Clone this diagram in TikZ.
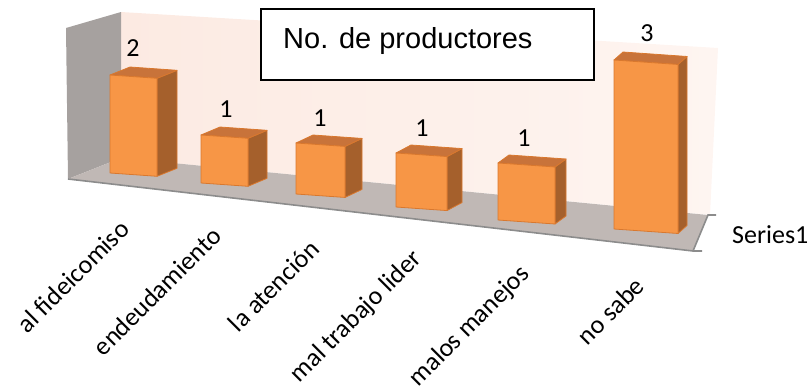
\documentclass[tikz,border=0pt]{standalone}
\usepackage{fontspec}
\setmainfont{Carlito}
\newfontfamily\titlefont{Liberation Sans}
\usetikzlibrary{positioning}
\definecolor{barfront}{HTML}{F79646}
\definecolor{bartop}{HTML}{C8733A}
\definecolor{barside}{HTML}{A5602C}
\definecolor{baredge}{HTML}{D9782E}
\definecolor{wallpink}{HTML}{FCEAE2}
\definecolor{wallpale}{HTML}{FEF5F1}
\definecolor{wallgrey}{HTML}{A6A19F}
\definecolor{floorgrey}{HTML}{C0B8B5}
\definecolor{axisgrey}{HTML}{8C8C8C}
\tikzstyle{catlabel} = [anchor=base east, rotate=45, inner sep=0pt, font=\fontsize{26}{30}\selectfont]
\tikzstyle{vallabel} = [anchor=base, inner sep=0pt, font=\fontsize{26}{30}\selectfont]
\tikzstyle{titlebox} = [rectangle, draw=black, line width=1.5pt, fill=white]
\tikzstyle{axisline} = [axisgrey, line width=1.6pt]
\tikzstyle{barface} = [draw=baredge, line width=0.8pt, line join=round]
% left x, right x, top y, bottom y, depth
\newcommand{\prodbar}[5]{%
  \pgfmathsetmacro{\barslope}{0.07*(#2-#1)}
  \filldraw[barface, fill=barside] (#2,#3+\barslope) -- (#2+#5,#3+\barslope-8) -- (#2+#5,#4+\barslope-8) -- (#2,#4+\barslope) -- cycle;
  \filldraw[barface, fill=bartop] (#1,#3) -- (#1+#5,#3-8) -- (#2+#5,#3+\barslope-8) -- (#2,#3+\barslope) -- cycle;
  \filldraw[barface, fill=barfront] (#1,#3) -- (#2,#3+\barslope) -- (#2,#4+\barslope) -- (#1,#4) -- cycle;
}
\begin{document}
\begin{tikzpicture}[x=1pt, y=-1pt]
\useasboundingbox (0,0) rectangle (810,389);

\shade[left color=wallpink, right color=wallpale] (121,12) -- (718,48) -- (710,215) -- (121,158) -- cycle;
\fill[wallgrey] (66,28) -- (121,12) -- (121,158) -- (68,179) -- cycle;
\fill[floorgrey] (68,179) -- (121,158) -- (708,215) -- (693,251) -- cycle;
\draw[axisline] (68,179) -- (693,251) -- (702,251);
\draw[axisline] (693,251) -- (708,215) -- (716,215);

\prodbar{110}{157}{75}{173}{20}
\prodbar{201}{248}{135}{183}{19}
\prodbar{296}{345}{143}{194}{17}
\prodbar{396}{447}{153}{207}{15}
\prodbar{498}{555}{163}{220}{11}
\prodbar{614}{678}{60}{229}{9}

\node (title) [titlebox, minimum width=333pt, minimum height=71pt] at (427.5,44.5) {};
\node (titletext) [anchor=base west, inner sep=0pt, font=\titlefont\fontsize{29}{34}\selectfont] at (283,48) {No. de productores};

\node (v1) [vallabel] at (133,56) {2};
\node (v2) [vallabel] at (226,117) {1};
\node (v3) [vallabel] at (320,126) {1};
\node (v4) [vallabel] at (422,136) {1};
\node (v5) [vallabel] at (524,146) {1};
\node (v6) [vallabel] at (647,41) {3};

\node (c1) [catlabel] at (131,231) {al fideicomiso};
\node (c2) [catlabel] at (223,238) {endeudamiento};
\node (c3) [catlabel] at (321,251) {la atención};
\node (c4) [catlabel] at (423,260) {mal trabajo lider};
\node (c5) [catlabel] at (531,275) {malos manejos};
\node (c6) [catlabel] at (646,288) {no sabe};

\node (series) [anchor=base west, inner sep=0pt, font=\fontsize{26}{30}\selectfont] at (732,243) {Series1};
\end{tikzpicture}
\end{document}
